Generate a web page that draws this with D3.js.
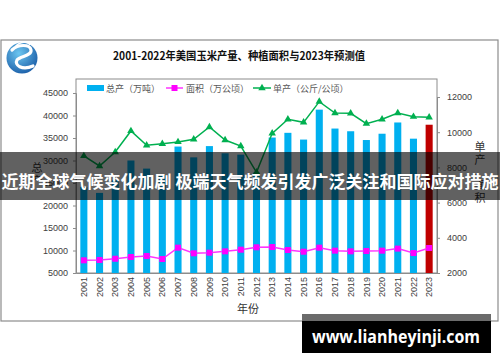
<!DOCTYPE html>
<html>
<head>
<meta charset="utf-8">
<script src="https://cdn.jsdelivr.net/npm/d3@7"></script>
<style>
  body { margin: 0; background: #fff; }
  svg { display: block; }
</style>
</head>
<body>
<svg id="chart" width="500" height="362"></svg>
<script>
// data
const years = ['2001','2002','2003','2004','2005','2006','2007','2008','2009','2010','2011','2012',
               '2013','2014','2015','2016','2017','2018','2019','2020','2021','2022','2023'];
const production = [24100, 22800, 25600, 30000, 28200, 26700, 33100, 30700, 33200, 31600, 31300, 27300,
                    35100, 36150, 34650, 41300, 37100, 36500, 34550, 35950, 38450, 34850, 37950];
const area = [2720, 2740, 2810, 2910, 2965, 2795, 3440, 3120, 3155, 3230, 3325, 3460,
              3475, 3305, 3210, 3440, 3270, 3230, 3250, 3270, 3385, 3135, 3420];
const yieldHa = [8650, 8080, 8875, 10070, 9255, 9345, 9445, 9600, 10295, 9555, 9215, 7720,
                 9935, 10735, 10560, 11735, 11090, 11075, 10485, 10735, 11090, 10880, 10845];
const leftTicks = [5000, 10000, 15000, 20000, 25000, 30000, 35000, 40000, 45000];
const rightTicks = [2000, 4000, 6000, 8000, 10000, 12000];
const legendNames = ['总产（万吨）', '面积（万公顷）', '单产（公斤/公顷）'];

const svg = d3.select('#chart');
const font = "'Liberation Sans', Arial, sans-serif";
const cjk = "'Noto Sans CJK SC', sans-serif";

// outer frame
svg.append('rect').attr('x', 1).attr('y', 40).attr('width', 497).attr('height', 281)
    .attr('fill', '#fff').attr('stroke', '#8c8c8c').attr('stroke-width', 1.2);

// logo (rough)
let defs = svg.append('defs');
let grad = defs.append('radialGradient').attr('id', 'lg').attr('cx', '40%').attr('cy', '35%').attr('r', '70%');
grad.append('stop').attr('offset', '0%').attr('stop-color', '#6cc6f0');
grad.append('stop').attr('offset', '100%').attr('stop-color', '#1b5ea8');
svg.append('circle').attr('cx', 22).attr('cy', 58).attr('r', 15.5).attr('fill', 'url(#lg)');
svg.append('path')
    .attr('d', 'M12,50 C18,44 30,44 31,50 C32,56 20,56 17,60 C14,65 22,71 33,66')
    .attr('fill', 'none').attr('stroke', '#fff').attr('stroke-width', 3.2).attr('stroke-linecap', 'round');
svg.append('path')
    .attr('d', 'M15,47 C20,41 28,41 30,45')
    .attr('fill', 'none').attr('stroke', '#fff').attr('stroke-width', 1.5);

// title
svg.append('text').attr('x', 239).attr('y', 60).attr('text-anchor', 'middle')
    .attr('font-family', cjk).attr('font-weight', 'bold').attr('font-size', 11).attr('fill', '#111')
    .attr('textLength', 252).attr('lengthAdjust', 'spacingAndGlyphs')
    .text('2001-2022年美国玉米产量、种植面积与2023年预测值');

// scales
const x = d3.scaleBand().domain(years).range([76, 437]).paddingInner(0.55).paddingOuter(0.275);
const yL = d3.scaleLinear().domain([5000, 45000]).range([273, 93]);
const yR = d3.scaleLinear().domain([2000, 12000]).range([273, 97]);
const cx = d => x(d) + x.bandwidth() / 2;

// plot box
svg.append('rect').attr('x', 76).attr('y', 79).attr('width', 361).attr('height', 194)
    .attr('fill', 'none').attr('stroke', '#8c8c8c').attr('stroke-width', 1);

// bars
svg.append('g').selectAll('rect').data(production).join('rect')
    .attr('x', (d, i) => x(years[i]))
    .attr('y', d => yL(d))
    .attr('width', x.bandwidth())
    .attr('height', d => yL(5000) - yL(d))
    .attr('fill', (d, i) => i === years.length - 1 ? '#c00000' : '#00b0f0');

// area line
const lineA = d3.line().x((d, i) => cx(years[i])).y(d => yR(d));
svg.append('path').datum(area).attr('d', lineA)
    .attr('fill', 'none').attr('stroke', '#ff33ff').attr('stroke-width', 1.5);
svg.append('g').selectAll('rect').data(area).join('rect')
    .attr('x', (d, i) => cx(years[i]) - 3).attr('y', d => yR(d) - 3)
    .attr('width', 6).attr('height', 6).attr('fill', '#ff00ff');

// yield line
svg.append('path').datum(yieldHa).attr('d', lineA)
    .attr('fill', 'none').attr('stroke', '#00b050').attr('stroke-width', 1.5);
const tri = d3.symbol().type(d3.symbolTriangle).size(24);
svg.append('g').selectAll('path').data(yieldHa).join('path')
    .attr('d', tri)
    .attr('transform', (d, i) => 'translate(' + cx(years[i]) + ',' + yR(d) + ')')
    .attr('fill', '#00b050');

// axes
const axL = svg.append('g').attr('transform', 'translate(76,0)')
    .call(d3.axisLeft(yL).tickValues(leftTicks).tickFormat(d3.format('d')).tickSize(3).tickPadding(5));
const axR = svg.append('g').attr('transform', 'translate(437,0)')
    .call(d3.axisRight(yR).tickValues(rightTicks).tickFormat(d3.format('d')).tickSize(3).tickPadding(7));
const axB = svg.append('g').attr('transform', 'translate(0,273)')
    .call(d3.axisBottom(x).tickSize(0));
[axL, axR, axB].forEach(a => {
    a.select('.domain').attr('stroke', '#8c8c8c');
    a.selectAll('line').attr('stroke', '#8c8c8c');
    a.selectAll('text').attr('font-family', font).attr('font-size', 9).attr('fill', '#404040');
});
axB.selectAll('text')
    .attr('transform', 'rotate(-90)')
    .attr('text-anchor', 'end')
    .attr('x', -4).attr('y', 0).attr('dy', '0.35em');

// axis titles
svg.append('text').attr('x', 248).attr('y', 313).attr('text-anchor', 'middle')
    .attr('font-family', cjk).attr('font-size', 11).attr('fill', '#333').text('年份');
const vTitle = (chars, xx, y0) => {
    let t = svg.append('text').attr('font-family', cjk).attr('font-size', 11).attr('fill', '#333')
        .attr('text-anchor', 'middle');
    chars.forEach((c, i) => t.append('tspan').attr('x', xx).attr('y', y0 + i * 12.7).text(c));
};
vTitle(['总', '产'], 37, 172);
vTitle(['单', '产', '、', '面', '积'], 480, 151);

// legend
const lg = svg.append('g').attr('font-family', cjk).attr('font-size', 9).attr('fill', '#595959');
lg.append('rect').attr('x', 87).attr('y', 85).attr('width', 17).attr('height', 6).attr('fill', '#00b0f0');
lg.append('text').attr('x', 106).attr('y', 91.5).text(legendNames[0]);
lg.append('line').attr('x1', 166).attr('x2', 183).attr('y1', 88).attr('y2', 88)
    .attr('stroke', '#ff33ff').attr('stroke-width', 1.5);
lg.append('rect').attr('x', 171.5).attr('y', 85).attr('width', 6).attr('height', 6).attr('fill', '#ff00ff');
lg.append('text').attr('x', 186).attr('y', 91.5).text(legendNames[1]);
lg.append('line').attr('x1', 253).attr('x2', 271).attr('y1', 88).attr('y2', 88)
    .attr('stroke', '#00b050').attr('stroke-width', 1.5);
lg.append('path').attr('d', tri).attr('transform', 'translate(262,88)').attr('fill', '#00b050');
lg.append('text').attr('x', 273).attr('y', 91.5).text(legendNames[2]);

// banner
svg.append('rect').attr('x', 0).attr('y', 152).attr('width', 500).attr('height', 48)
    .attr('fill', '#000').attr('opacity', 0.62);
svg.append('text').attr('x', 250).attr('y', 188).attr('text-anchor', 'middle')
    .attr('font-family', cjk).attr('font-weight', 'bold').attr('font-size', 17).attr('fill', '#fff')
    .text('近期全球气候变化加剧 极端天气频发引发广泛关注和国际应对措施');

// watermark
svg.append('rect').attr('x', 302).attr('y', 314).attr('width', 189).attr('height', 7).attr('fill', '#6b6b6b');
svg.append('rect').attr('x', 302).attr('y', 321).attr('width', 189).attr('height', 32).attr('fill', '#000');
svg.append('text').attr('x', 396).attr('y', 343).attr('text-anchor', 'middle')
    .attr('font-family', "'Open Sans', sans-serif").attr('font-weight', 'bold').attr('font-size', 17)
    .attr('textLength', 168).attr('lengthAdjust', 'spacingAndGlyphs')
    .attr('fill', '#fff').text('www.lianheyinji.com');
</script>
</body>
</html>
